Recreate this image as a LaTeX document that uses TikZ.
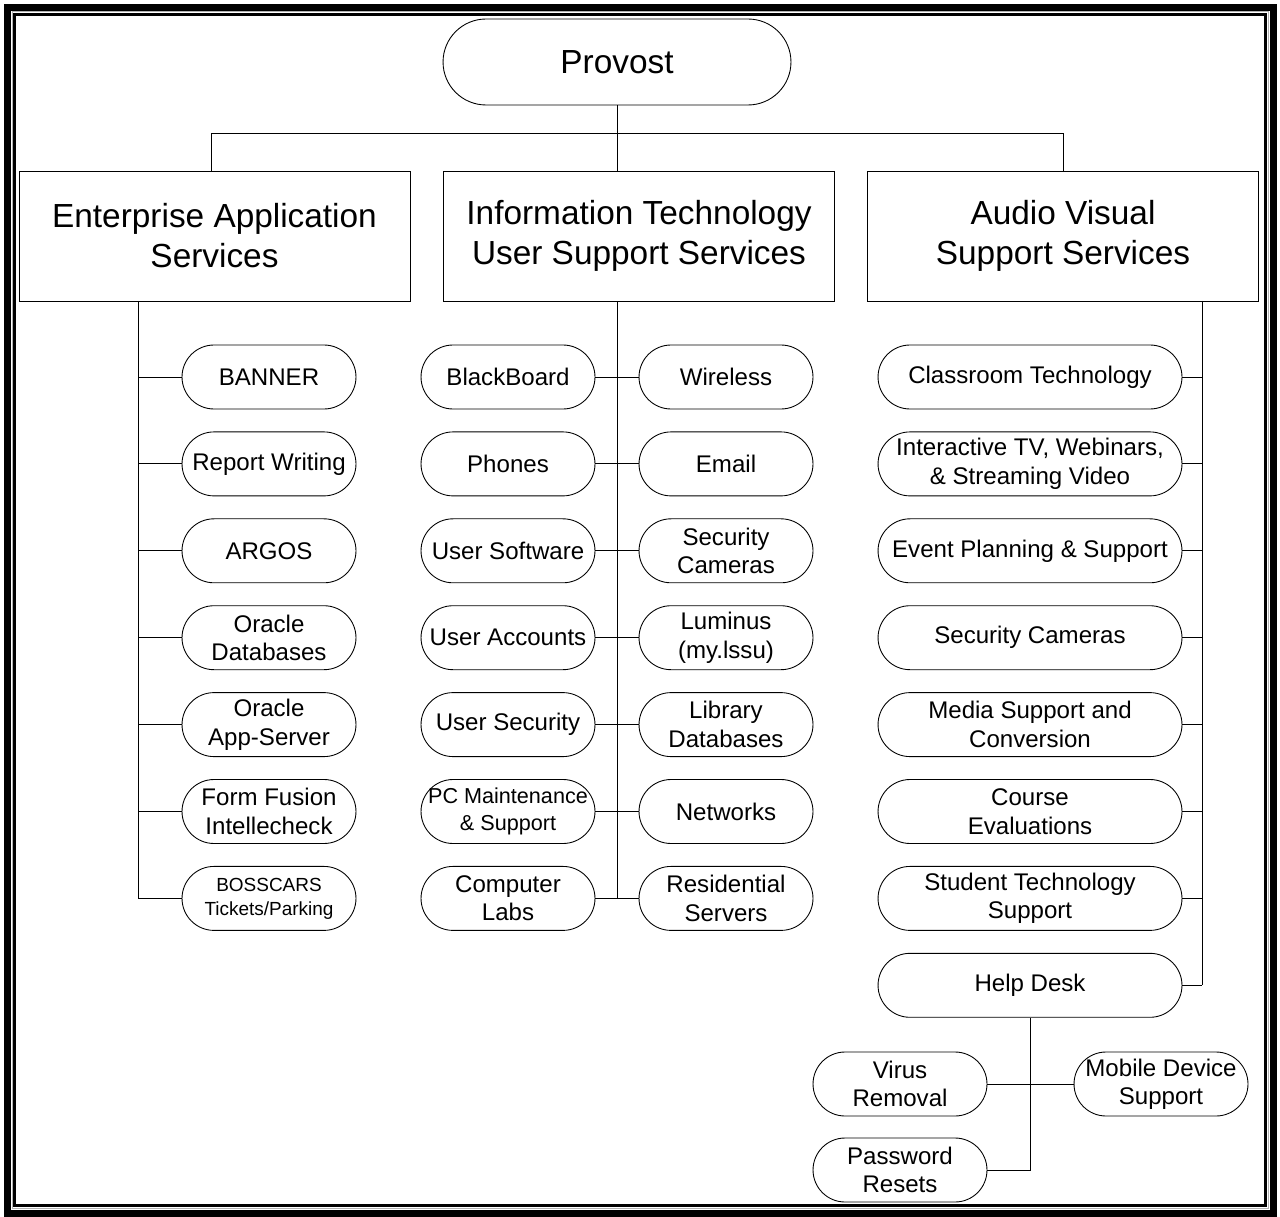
\documentclass[tikz,border=0pt]{standalone}
\usepackage{fontspec}
\setmainfont{Liberation Sans}

\tikzset{
  pill/.style={draw, rounded corners=0.64cm,
    minimum width=3.48cm, minimum height=1.28cm, inner sep=0pt, align=center},
  widepill/.style={pill, minimum width=6.08cm},
  headbox/.style={draw, minimum width=7.82cm,
    minimum height=2.6cm, inner sep=0pt, align=center},
}

\begin{document}
\begin{tikzpicture}[x=0.02cm, y=-0.02cm, line width=0.5pt]
    \def\FBig{\fontsize{19}{22.8}\selectfont}
    \def\FNorm{\fontsize{13.7}{16.2}\selectfont}
    \def\FPc{\fontsize{12.3}{15.4}\selectfont}
    \def\FBoss{\fontsize{10.8}{13.7}\selectfont}

    \def\RowA{377}   % y of first row
    \def\RowH{86.9}  % row pitch

    \useasboundingbox (0,0) rectangle (1280,1216);

    % page frame
    \draw[line width=0.14cm] (7.5,7.5) rectangle (1273,1213);
    \draw[gray!60, line width=0.02cm] (12,12) rectangle (1268,1208.5);
    \draw[line width=0.05cm] (14.7,14.7) rectangle (1265.5,1205.5);

    % top level
    \node[pill, minimum width=6.96cm, minimum height=1.72cm, rounded corners=0.86cm,
      font=\FBig] (prov) at (617,62) {Provost};

    \node[headbox, font=\FBig] (eas) at (214.5,236) {Enterprise Application\\Services};
    \node[headbox, font=\FBig] (its) at (639,236) {Information Technology\\User Support Services};
    \node[headbox, font=\FBig] (avs) at (1063,236) {Audio Visual\\Support Services};

    \coordinate (busL) at (211,133);
    \coordinate (busR) at (avs.north |- busL);
    \draw (prov.south) -- (prov.south |- its.north);
    \draw (busL |- eas.north) -- (busL) -- (busR) -- (avs.north);

    % enterprise applications
    \coordinate (espine) at (138,301);
    \foreach \k/\fn/\txt in {1/\FNorm/BANNER, 2/\FNorm/{Report Writing}, 3/\FNorm/ARGOS,
        4/\FNorm/{Oracle\\Databases}, 5/\FNorm/{Oracle\\App-Server},
        6/\FNorm/{Form Fusion\\Intellecheck}, 7/\FBoss/{BOSSCARS\\Tickets/Parking}} {
      \pgfmathsetmacro{\yy}{\RowA+(\k-1)*\RowH}
      \node[pill, font=\fn] (ea\k) at (269,\yy) {\txt};
      \draw (ea\k.west) -- (ea\k.west -| espine);
    }
    \draw (espine) -- (espine |- ea7.west);

    % user support, two columns on one spine
    \foreach \k/\fn/\txt in {1/\FNorm/BlackBoard, 2/\FNorm/Phones, 3/\FNorm/{User Software},
        4/\FNorm/{User Accounts}, 5/\FNorm/{User Security},
        6/\FPc/{PC Maintenance\\\& Support}, 7/\FNorm/{Computer\\Labs}} {
      \pgfmathsetmacro{\yy}{\RowA+(\k-1)*\RowH}
      \node[pill, font=\fn] (il\k) at (508,\yy) {\txt};
    }
    \foreach \k/\txt in {1/Wireless, 2/Email, 3/{Security\\Cameras}, 4/{Luminus\\(my.lssu)},
        5/{Library\\Databases}, 6/Networks, 7/{Residential\\Servers}} {
      \pgfmathsetmacro{\yy}{\RowA+(\k-1)*\RowH}
      \node[pill, font=\FNorm] (ir\k) at (726,\yy) {\txt};
      \draw (il\k.east) -- (ir\k.west);
    }
    \draw (prov.south |- its.south) -- (prov.south |- il7.east);

    % audio visual
    \coordinate (aspine) at (1202,301);
    \foreach \k/\txt in {1/{Classroom Technology}, 2/{Interactive TV, Webinars,\\\& Streaming Video},
        3/{Event Planning \& Support}, 4/{Security Cameras}, 5/{Media Support and\\Conversion},
        6/{Course\\Evaluations}, 7/{Student Technology\\Support}, 8/{Help Desk}} {
      \pgfmathsetmacro{\yy}{\RowA+(\k-1)*\RowH}
      \node[widepill, font=\FNorm] (av\k) at (1030,\yy) {\txt};
      \draw (av\k.east) -- (av\k.east -| aspine);
    }
    \draw (aspine) -- (aspine |- av8.east);

    % help desk
    \node[pill, font=\FNorm] (hd1) at (900,1084) {Virus\\Removal};
    \node[pill, font=\FNorm] (hd2) at (1161,1084) {Mobile Device\\Support};
    \node[pill, font=\FNorm] (hd3) at (900,1170) {Password\\Resets};
    \draw (hd1.east) -- (hd2.west);
    \draw (av8.south) -- (av8.south |- hd3.east) -- (hd3.east);
\end{tikzpicture}
\end{document}
